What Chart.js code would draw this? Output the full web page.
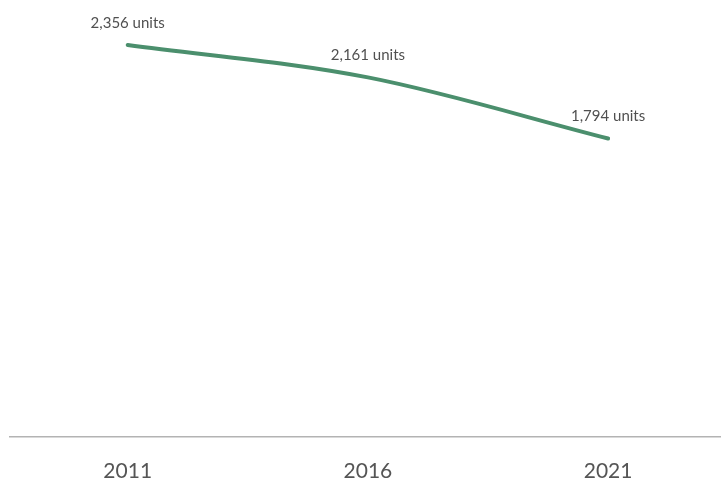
<!DOCTYPE html>
<html>
<head>
<meta charset="utf-8">
<script src="https://cdn.jsdelivr.net/npm/chart.js@4"></script>
<style>
html,body{margin:0;padding:0;background:#fff;overflow:hidden;}
#outer{width:721px;height:480px;overflow:hidden;position:relative;}
canvas{display:block;}
</style>
</head>
<body>
<div id="outer"><canvas id="c" width="721" height="480" style="width:721px;height:480px"></canvas></div>
<script>
const years = [2011, 2016, 2021];
const units = [2356, 2161, 1794];
const valueLabels = ["2,356 units", "2,161 units", "1,794 units"];

const labelPlugin = {
  id: 'valueLabels',
  afterDatasetsDraw(chart) {
    const ctx = chart.ctx;
    const meta = chart.getDatasetMeta(0);
    ctx.save();
    ctx.font = '15px Lato, "Open Sans", sans-serif';
    ctx.fillStyle = '#505050';
    ctx.textAlign = 'center';
    ctx.textBaseline = 'middle';
    meta.data.forEach((pt, i) => {
      ctx.fillText(valueLabels[i], pt.x, pt.y - 22);
    });
    ctx.restore();
  }
};

new Chart(document.getElementById('c'), {
  type: 'line',
  data: {
    datasets: [{
      data: years.map((y, i) => ({x: y, y: units[i]})),
      borderColor: '#4b8f6d',
      borderWidth: 4,
      pointRadius: 0,
      cubicInterpolationMode: 'monotone',
      fill: false,
      borderCapStyle: 'round'
    }]
  },
  options: {
    responsive: false,
    maintainAspectRatio: false,
    animation: false,
    layout: {padding: {top: 21, left: 10, right: 0, bottom: 0}},
    plugins: {legend: {display: false}, tooltip: {enabled: false}},
    scales: {
      x: {
        type: 'linear',
        min: 2008.55,
        max: 2023.35,
        afterBuildTicks(axis) { axis.ticks = years.map(v => ({value: v})); },
        afterFit(axis) { axis.height = 43; },
        grid: {display: false},
        border: {display: true, color: '#b3b3b3', width: 1.5},
        ticks: {
          color: '#555555',
          font: {family: 'Lato, "Open Sans", sans-serif', size: 21},
          padding: 14,
          maxRotation: 0,
          callback: v => String(v)
        }
      },
      y: {
        display: false,
        min: 0,
        max: 2500
      }
    }
  },
  plugins: [labelPlugin]
});
</script>
</body>
</html>
